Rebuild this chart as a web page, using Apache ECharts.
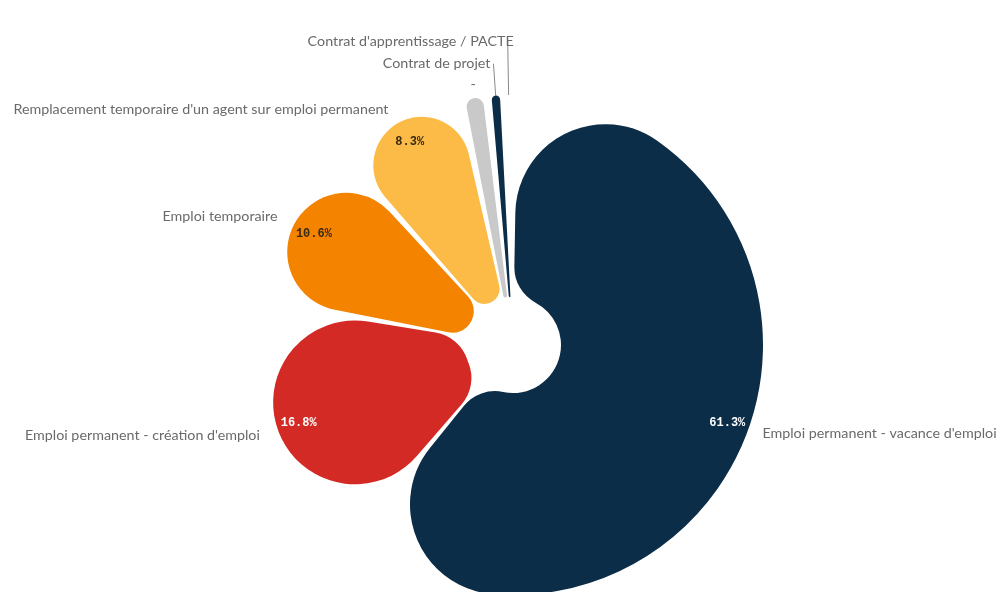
<!DOCTYPE html>
<html><head><meta charset="utf-8">
<script src="https://cdn.jsdelivr.net/npm/echarts@6/dist/echarts.min.js"></script>
<style>html,body{margin:0;padding:0;background:#fff}#c{width:1002px;height:592px}</style>
</head><body><div id="c"></div>
<script>
const categories = ["Emploi permanent - vacance d'emploi", "Emploi permanent - création d'emploi", "Emploi temporaire", "Remplacement temporaire d'un agent sur emploi permanent", "-", "Contrat de projet", "Contrat d'apprentissage / PACTE"];
const values = [61.3, 16.8, 10.6, 8.3, 1.7, 1.1, 0.2];
const colors = ['#0c2d48', '#d42a26', '#f48300', '#fbbb46', '#c9c9c9', '#0c2d48', '#0c2d48'];
const pctLabels = ['61.3%', '16.8%', '10.6%', '8.3%', '', '', ''];
const pctColors = ['#ffffff', '#ffffff', '#3a2a12', '#3a2a12', '#333', '#333', '#333'];
const lineLen = [10, 14, 14, 14, 14, 32, 54];
const lineShow = [false, false, false, false, false, true, true];
const labelGap = [5, 5, 5, 5, -4, 3, -6];

const center = [513, 345];
const shapeData = categories.map((c, i) => ({
  name: c, value: values[i],
  itemStyle: { color: colors[i] },
  label: { distanceToLabelLine: labelGap[i] },
  labelLine: { show: lineShow[i], length: lineLen[i], length2: 0 }
}));
const pctData = categories.map((c, i) => ({
  name: c, value: values[i],
  label: { formatter: pctLabels[i], color: pctColors[i] }
}));

const chart = echarts.init(document.getElementById('c'));
chart.setOption({
  animation: false,
  series: [{
    type: 'pie',
    center: center,
    radius: [48, 250],
    startAngle: 90,
    clockwise: true,
    padAngle: 2,
    avoidLabelOverlap: false,
    itemStyle: { borderRadius: [40, 90] },
    label: {
      show: true, position: 'outside', formatter: '{b}',
      color: '#6a6a6a', fontFamily: 'Lato', fontSize: 14.3
    },
    labelLine: { lineStyle: { color: '#8a8a8a', width: 1 }, smooth: false },
    emphasis: { disabled: true },
    data: shapeData
  }, {
    type: 'pie',
    center: center,
    radius: [200, 250],
    startAngle: 90,
    clockwise: true,
    padAngle: 2,
    silent: true,
    itemStyle: { color: 'transparent' },
    label: {
      show: true, position: 'inside',
      fontFamily: 'Liberation Mono', fontWeight: 'bold', fontSize: 12
    },
    labelLine: { show: false },
    emphasis: { disabled: true },
    data: pctData
  }]
});
</script></body></html>
